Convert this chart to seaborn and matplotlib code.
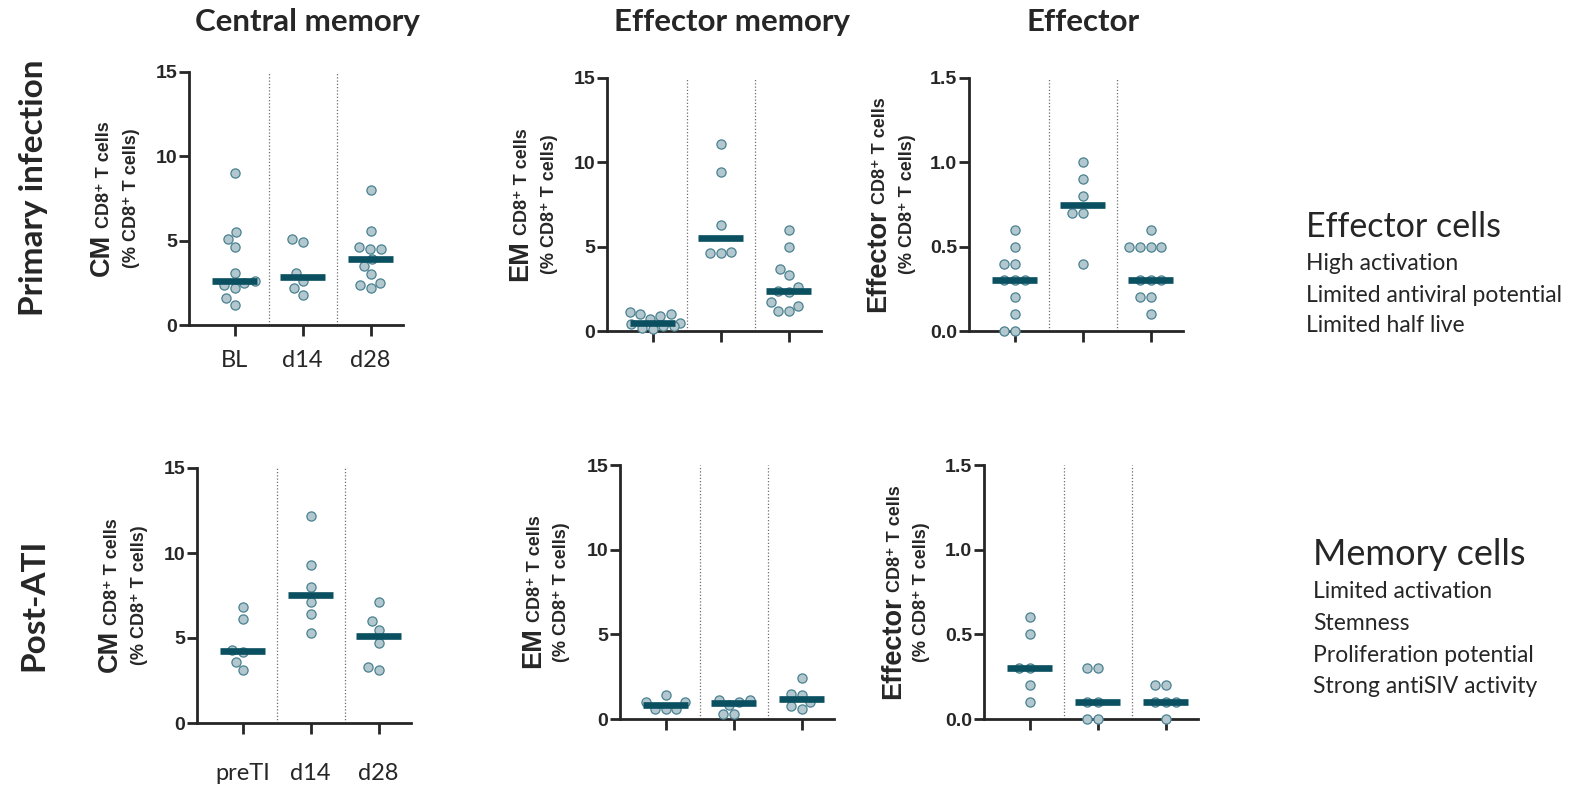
import numpy as np
import pandas as pd
import matplotlib
matplotlib.use("Agg")
import matplotlib.pyplot as plt
import seaborn as sns
from matplotlib.transforms import offset_copy

W, H = 1594, 789

# ---- data -------------------------------------------------------------
primary_days = ["BL", "d14", "d28"]
post_days = ["preTI", "d14", "d28"]

cm_primary_bl = [9.0, 5.5, 5.1, 4.6, 3.1, 2.6, 2.5, 2.4, 2.2, 1.6, 1.2]
cm_primary_d14 = [5.1, 4.9, 3.1, 2.6, 2.2, 1.8]
cm_primary_d28 = [8.0, 5.6, 4.6, 4.5, 4.5, 3.9, 3.5, 3.0, 2.5, 2.4, 2.2]

em_primary_bl = [1.1, 1.0, 1.0, 0.9, 0.7, 0.5, 0.4, 0.3, 0.3, 0.2, 0.1]
em_primary_d14 = [11.1, 9.4, 6.3, 4.7, 4.6, 4.6]
em_primary_d28 = [6.0, 5.0, 3.7, 3.3, 2.6, 2.4, 2.3, 1.7, 1.5, 1.2, 1.2]

eff_primary_bl = [0.6, 0.5, 0.4, 0.4, 0.3, 0.3, 0.3, 0.2, 0.1, 0.0, 0.0]
eff_primary_d14 = [1.0, 0.9, 0.8, 0.7, 0.7, 0.4]
eff_primary_d28 = [0.6, 0.5, 0.5, 0.5, 0.5, 0.3, 0.3, 0.3, 0.2, 0.2, 0.1]

cm_post_preti = [6.8, 6.1, 4.3, 4.2, 3.6, 3.1]
cm_post_d14 = [12.2, 9.3, 8.0, 7.1, 6.4, 5.3]
cm_post_d28 = [7.1, 6.0, 5.5, 4.7, 3.3, 3.1]

em_post_preti = [1.4, 1.0, 1.0, 0.6, 0.6, 0.6]
em_post_d14 = [1.1, 1.1, 1.0, 0.85, 0.3, 0.3]
em_post_d28 = [2.4, 1.5, 1.4, 1.0, 0.75, 0.6]

eff_post_preti = [0.6, 0.5, 0.3, 0.3, 0.2, 0.1]
eff_post_d14 = [0.3, 0.3, 0.1, 0.1, 0.0, 0.0]
eff_post_d28 = [0.2, 0.2, 0.1, 0.1, 0.1, 0.0]

column_titles = ["Central memory", "Effector memory", "Effector"]
row_titles = ["Primary infection", "Post-ATI"]
count_ticks = [0, 5, 10, 15]
count_ticklabels = ["0", "5", "10", "15"]
frac_ticks = [0.0, 0.5, 1.0, 1.5]
frac_ticklabels = ["0.0", "0.5", "1.0", "1.5"]

effector_notes = ["High activation", "Limited antiviral potential", "Limited half live"]
memory_notes = ["Limited activation", "Stemness", "Proliferation potential",
                "Strong antiSIV activity"]

# ---- style ------------------------------------------------------------
sns.set_style("ticks")
plt.rcParams["font.family"] = ["Liberation Sans", "DejaVu Sans"]
plt.rcParams["axes.linewidth"] = 2.0

DOT_FACE = "#b3c8ce"
DOT_EDGE = "#4a8191"
BAR = "#0b5061"
SEP = "#6e6e6e"
LABEL_FONT = ["Lato", "DejaVu Sans"]

fig = plt.figure(figsize=(W / 100, H / 100), dpi=100)

# (left, top, bottom) in pixels, cell type, timepoints, series, tick set, label
panels = [
    ((189, 72, 325), "CM", primary_days, [cm_primary_bl, cm_primary_d14, cm_primary_d28],
     (count_ticks, count_ticklabels), True),
    ((607, 78, 331), "EM", primary_days, [em_primary_bl, em_primary_d14, em_primary_d28],
     (count_ticks, count_ticklabels), False),
    ((969, 78, 331), "Effector", primary_days, [eff_primary_bl, eff_primary_d14, eff_primary_d28],
     (frac_ticks, frac_ticklabels), False),
    ((197, 468, 723), "CM", post_days, [cm_post_preti, cm_post_d14, cm_post_d28],
     (count_ticks, count_ticklabels), True),
    ((620, 465, 719), "EM", post_days, [em_post_preti, em_post_d14, em_post_d28],
     (count_ticks, count_ticklabels), False),
    ((984, 465, 719), "Effector", post_days, [eff_post_preti, eff_post_d14, eff_post_d28],
     (frac_ticks, frac_ticklabels), False),
]

XMIN, XMAX = -0.67, 2.47
STEP_PX = 68
width_px = STEP_PX * (XMAX - XMIN)

label_parts = []
for idx, ((left, top, bottom), cell, days, series, (ticks, ticklabels), show_days) in enumerate(panels):
    ax = fig.add_axes([left / W, 1 - bottom / H, width_px / W, (bottom - top) / H])
    df = pd.DataFrame({
        "day": np.repeat(days, [len(s) for s in series]),
        "value": np.concatenate(series),
    })
    sns.swarmplot(data=df, x="day", y="value", order=days, color=DOT_FACE,
                  edgecolor=DOT_EDGE, linewidth=0.9, size=6.6, ax=ax,
                  zorder=3, clip_on=False)
    meds = df.groupby("day", sort=False)["value"].median()
    for i, d in enumerate(days):
        ax.plot([i - 0.33, i + 0.33], [meds[d], meds[d]], color=BAR, lw=4.8,
                solid_capstyle="butt", zorder=5, clip_on=False)
    for sep in (0.5, 1.5):
        ax.axvline(sep, color=SEP, ls=(0, (1, 1.6)), lw=0.9, zorder=1)

    ax.set_xlim(XMIN, XMAX)
    ax.set_ylim(ticks[0], ticks[-1])
    ax.set_yticks(ticks, ticklabels, fontweight="bold", fontsize=14)
    if show_days:
        ax.set_xticks(range(len(days)), days, fontsize=17, family=LABEL_FONT)
    else:
        ax.set_xticks(range(len(days)), [""] * len(days))
    ax.set_xlabel("")
    ax.set_ylabel("")
    sns.despine(ax=ax)
    for s in ("left", "bottom"):
        ax.spines[s].set_linewidth(2.0)
    ax.tick_params(axis="y", length=7, width=2.0, pad=1.5)
    ax.tick_params(axis="x", length=8, width=2.0, pad=10 if idx < 3 else 21)
    ax.patch.set_alpha(0)

    frac = cell == "Effector"
    sub_off = 62 if frac else 58
    base_off = 84 if frac else 80
    ax.text(0, 0.5, "(% CD8⁺ T cells)",
            transform=offset_copy(ax.transAxes, fig=fig, x=-sub_off, units="dots"),
            rotation=90, ha="center", va="center", fontsize=13, fontweight="bold")
    tb = ax.text(0, 0.5, cell, rotation=90, rotation_mode="anchor", ha="left",
                 va="baseline", fontsize=19.5, fontweight="bold")
    ts = ax.text(0, 0.5, "CD8⁺ T cells", rotation=90, rotation_mode="anchor",
                 ha="left", va="baseline", fontsize=13, fontweight="bold")
    label_parts.append((ax, tb, ts, base_off))

# stack the two-size axis labels along the spine, centred on the axis
fig.canvas.draw()
for ax, tb, ts, off in label_parts:
    hb = tb.get_window_extent().height
    hs = ts.get_window_extent().height
    gap = 5
    total = hb + gap + hs
    tb.set_transform(offset_copy(ax.transAxes, fig=fig, x=-off, y=-total / 2, units="dots"))
    ts.set_transform(offset_copy(ax.transAxes, fig=fig, x=-off, y=-total / 2 + hb + gap,
                                 units="dots"))


def fx(x):
    return x / W


def fy(y):
    return 1 - y / H


# column headers
for title, cx in zip(column_titles, (307, 732, 1083)):
    fig.text(fx(cx), fy(22), title, ha="center", va="center", fontsize=22.5,
             fontweight="bold", family=LABEL_FONT)

# row headers
for title, cy in zip(row_titles, (188, 605)):
    fig.text(fx(34), fy(cy), title, ha="center", va="center", rotation=90,
             fontsize=24, fontweight="bold", family=LABEL_FONT)

# side notes
fig.text(fx(1306), fy(237), "Effector cells", ha="left", va="baseline",
         fontsize=24.5, family=LABEL_FONT)
for line, base in zip(effector_notes, (270, 302, 332)):
    fig.text(fx(1306), fy(base), line, ha="left", va="baseline", fontsize=16.5,
             family=LABEL_FONT)

fig.text(fx(1313), fy(565), "Memory cells", ha="left", va="baseline",
         fontsize=26, family=LABEL_FONT)
for line, base in zip(memory_notes, (598, 630, 662, 693)):
    fig.text(fx(1313), fy(base), line, ha="left", va="baseline", fontsize=16.5,
             family=LABEL_FONT)

fig.savefig("out.png", dpi=100, facecolor="white")
